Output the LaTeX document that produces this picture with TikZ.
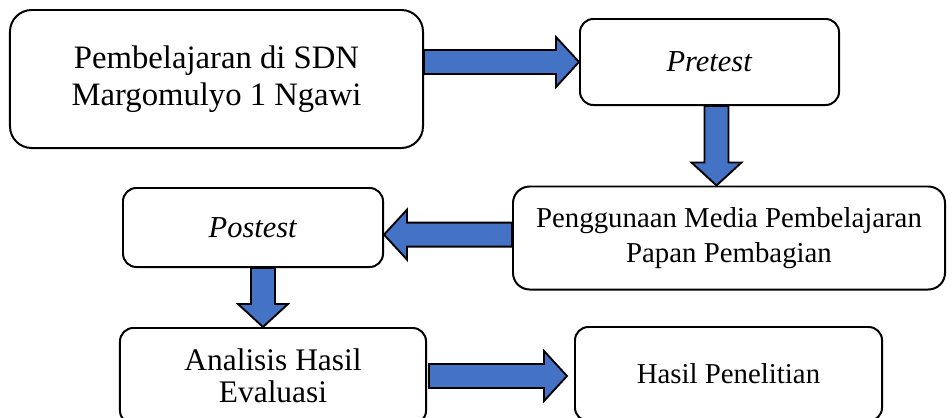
\documentclass[tikz,border=0pt]{standalone}
\usepackage{fontspec}
\setmainfont{Liberation Serif}
\usetikzlibrary{calc}
\definecolor{arrowblue}{HTML}{4472C4}
\newcommand{\flowarrow}[2]{%
\coordinate (hb) at ($(#2)!0.69cm!(#1)$);
\draw[barrow] ($(#1)!0.36cm!90:(#2)$) -- ($(hb)!0.36cm!90:(#2)$) -- ($(hb)!0.75cm!90:(#2)$) -- (#2) -- ($(hb)!0.75cm!-90:(#2)$) -- ($(hb)!0.36cm!-90:(#2)$) -- ($(#1)!0.36cm!-90:(#2)$) -- cycle;}

\begin{document}
\begin{tikzpicture}[x=0.03cm, y=-0.03cm,
  box/.style={draw, line width=1.7pt, rounded corners=0.4cm, align=center, inner sep=0pt, font=\fontsize{24.6pt}{29pt}\selectfont},
  barrow/.style={draw, line width=1.6pt, fill=arrowblue, line join=miter}]
\clip (0,0) rectangle (952,417);
\node[box, rounded corners=0.65cm, minimum width=12.39cm, minimum height=4.14cm, font=\fontsize{27.9pt}{32pt}\selectfont] (S) at (216.5,79) {Pembelajaran di SDN\\Margomulyo 1 Ngawi};
\node[box, minimum width=7.77cm, minimum height=2.58cm, font=\fontsize{26pt}{28pt}\selectfont] (Pre) at (709.5,62) {\textit{Pretest}};
\node[box, rounded corners=0.5cm, minimum width=12.96cm, minimum height=3.09cm, font=\fontsize{24.6pt}{30pt}\selectfont] (M) at (729,238) {Penggunaan Media Pembelajaran\\Papan Pembagian};
\node[box, minimum width=7.8cm, minimum height=2.37cm, font=\fontsize{26pt}{28pt}\selectfont] (Post) at (253,227.5) {\textit{Postest}};
\node[box, minimum width=9.18cm, minimum height=2.88cm, font=\fontsize{26.8pt}{27.5pt}\selectfont] (A) at (273,376) {Analisis Hasil\\Evaluasi};
\node[box, minimum width=9.21cm, minimum height=2.82cm] (H) at (728.5,374) {Hasil Penelitian};
\coordinate (t1) at (S.east |- Pre.west);
\flowarrow{t1}{Pre.west}
\coordinate (t2) at ([xshift=0.21cm]Pre.south);
\coordinate (h2) at (t2 |- M.north);
\flowarrow{t2}{h2}
\coordinate (t3) at ([yshift=0.1cm]M.west);
\coordinate (h3) at (t3 -| Post.east);
\flowarrow{t3}{h3}
\coordinate (t4) at ([xshift=0.3cm]Post.south);
\coordinate (h4) at (t4 |- A.north);
\flowarrow{t4}{h4}
\coordinate (t5) at ([xshift=0.06cm]A.east);
\coordinate (h5) at ($(t5 -| H.west)+(-7,0)$);
\flowarrow{t5}{h5}
\end{tikzpicture}
\end{document}
